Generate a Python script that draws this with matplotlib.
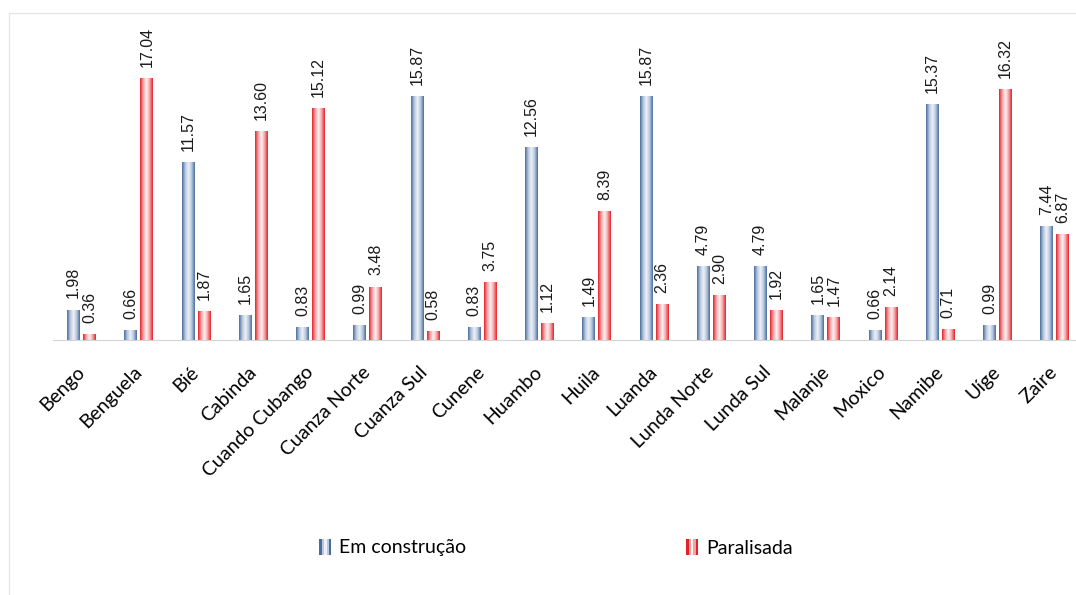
import numpy as np
import matplotlib.pyplot as plt
from matplotlib.colors import LinearSegmentedColormap
from matplotlib.patches import Rectangle
from matplotlib.lines import Line2D
from matplotlib.legend_handler import HandlerBase

provinces = ['Bengo', 'Benguela', 'Bié', 'Cabinda', 'Cuando Cubango', 'Cuanza Norte',
             'Cuanza Sul', 'Cunene', 'Huambo', 'Huila', 'Luanda', 'Lunda Norte',
             'Lunda Sul', 'Malanje', 'Moxico', 'Namibe', 'Uíge', 'Zaire']
em_construcao = [1.98, 0.66, 11.57, 1.65, 0.83, 0.99, 15.87, 0.83, 12.56, 1.49,
                 15.87, 4.79, 4.79, 1.65, 0.66, 15.37, 0.99, 7.44]
paralisada = [0.36, 17.04, 1.87, 13.60, 15.12, 3.48, 0.58, 3.75, 1.12, 8.39,
              2.36, 2.90, 1.92, 1.47, 2.14, 0.71, 16.32, 6.87]

blue_stops = ['#4c6d9c', '#b7c8df', '#eef2f8', '#b7c8df', '#4c6d9c']
red_stops = ['#e8202a', '#f6a3a6', '#fff4f4', '#f6a3a6', '#e8202a']
blue_cmap = LinearSegmentedColormap.from_list('blu', blue_stops)
red_cmap = LinearSegmentedColormap.from_list('rd', red_stops)


def fill_gradient(ax, bars, cmap):
    grad = np.linspace(0, 1, 64).reshape(1, -1)
    for b in bars:
        x, y, w, h = b.get_x(), b.get_y(), b.get_width(), b.get_height()
        im = ax.imshow(grad, cmap=cmap, extent=[x, x + w, y, y + h],
                       aspect='auto', zorder=2, interpolation='bilinear')
        im.set_clip_path(b)


class StripeHandler(HandlerBase):
    def __init__(self, colors):
        super().__init__()
        self.colors = colors

    def create_artists(self, legend, orig_handle, xdescent, ydescent,
                       width, height, fontsize, trans):
        n = len(self.colors)
        arts = []
        for i, c in enumerate(self.colors):
            r = Rectangle((-xdescent + i * width / n, -ydescent - 1), width / n, height + 2,
                          facecolor=c, lw=0, transform=trans)
            arts.append(r)
        return arts


fig = plt.figure(figsize=(10.76, 5.95), dpi=100)
ax = fig.add_axes([53 / 1076, 1 - 340 / 595, 1023 / 1076, 300 / 595])

x = np.arange(len(provinces))
w = 0.227
off = 0.14
b1 = ax.bar(x - off, em_construcao, w, color='#9fb3d1', zorder=2)
b2 = ax.bar(x + off, paralisada, w, color='#f59a9e', zorder=2)
fill_gradient(ax, b1, blue_cmap)
fill_gradient(ax, b2, red_cmap)

for xs, vals in ((x - off, em_construcao), (x + off, paralisada)):
    for xi, v in zip(xs, vals):
        ax.annotate(f'{v:.2f}', (xi, v), xytext=(0, 8), textcoords='offset points',
                    rotation=90, ha='center', va='bottom', fontsize=11.5,
                    family='Liberation Sans', color='#1a1a1a')

ax.set_xlim(-0.5, 17.37)
ax.set_ylim(0, 19.52)
ax.set_yticks([])
ax.set_xticks(x)
ax.set_xticklabels(provinces, rotation=45, ha='right', va='center',
                   rotation_mode='anchor', fontsize=14, family='Lato')
ax.tick_params(axis='x', length=0, pad=21)
for s in ('top', 'right', 'left'):
    ax.spines[s].set_visible(False)
ax.spines['bottom'].set_color('#d4d4d4')

handles = [Rectangle((0, 0), 1, 1), Rectangle((0, 0), 1, 1)]
fig.legend(handles, ['Em construção', 'Paralisada'], ncol=2, loc='center',
           bbox_to_anchor=(556 / 1076, 1 - 548 / 595), frameon=False,
           prop={'family': 'Lato', 'size': 14}, handlelength=0.62, handleheight=0.7,
           handletextpad=0.4, columnspacing=11.3,
           handler_map={handles[0]: StripeHandler(blue_stops), handles[1]: StripeHandler(red_stops)})

fig.add_artist(Line2D([9 / 1076, 9 / 1076], [0, 1 - 13 / 595], color='#e6e6e6', lw=1))
fig.add_artist(Line2D([9 / 1076, 1], [1 - 13 / 595, 1 - 13 / 595], color='#e6e6e6', lw=1))

fig.savefig('out.png', dpi=100)
